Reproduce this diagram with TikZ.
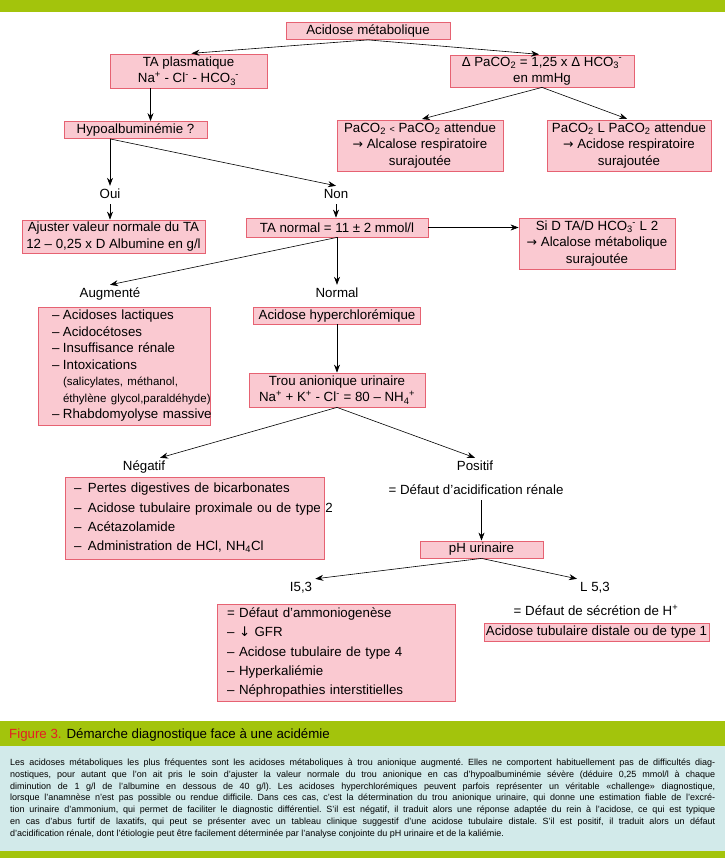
\documentclass[tikz,border=0pt]{standalone}
\usepackage{fontspec}
\setmainfont{Liberation Sans}
\newfontfamily\symfont{DejaVu Sans}
\usetikzlibrary{arrows.meta}
\definecolor{rosebox}{RGB}{250,201,209}
\definecolor{rosedraw}{RGB}{230,98,114}
\definecolor{vert}{RGB}{163,196,12}
\definecolor{bleu}{RGB}{210,234,234}
\definecolor{rouge}{RGB}{228,30,36}
\newcommand{\fl}{{\symfont\fontsize{12.5}{12.5}\selectfont →}}
\newcommand{\hco}{HCO\textsubscript{3}\kern-0.5pt\textsuperscript{-}}
\newcommand{\li}[2]{\makebox[#1][l]{–}\mbox{#2}}
\newcommand{\ligne}[1]{\hbox to 705pt{#1}}
\begin{document}
\begin{tikzpicture}[x=1pt,y=-1pt,
    boite/.style={draw=rosedraw,fill=rosebox,line width=0.8pt,inner sep=0pt,align=center,
      font=\fontsize{13.3}{16.5}\selectfont},
    liste/.style={boite,align=left},
    etiq/.style={inner sep=3pt,text height=9.5pt,text depth=2.5pt,font=\fontsize{13.3}{16}\selectfont},
    fleche/.style={-{Stealth[length=8pt,width=6pt]},line width=0.6pt}]
  \useasboundingbox (0,0) rectangle (725,858);
  %bandes
  \fill[vert] (0,0) rectangle (725,12);
  \fill[vert] (0,721) rectangle (725,746);
  \fill[bleu] (0,746) rectangle (725,851);
  \fill[vert] (0,851) rectangle (725,858);
  %boites
  \node[boite,minimum width=164pt,minimum height=17pt] (acid) at (368,31) {Acidose métabolique};
  \node[boite,minimum width=157pt,minimum height=34pt] (tapl) at (188.5,71)
    {TA plasmatique\\Na\textsuperscript{+} - Cl\textsuperscript{-} - \hco};
  \node[boite,minimum width=184pt,minimum height=32pt] (dpaco) at (542,71)
    {Δ PaCO\textsubscript{2} = 1,25 x Δ \hco\\en mmHg};
  \node[boite,minimum width=143pt,minimum height=17pt] (hypo) at (135.5,130) {Hypoalbuminémie ?};
  \node[boite,minimum width=166pt,minimum height=51pt] (pinf) at (420,145.5)
    {PaCO\textsubscript{2} {\fontsize{9}{9}\selectfont<} PaCO\textsubscript{2} attendue\\\fl{} Alcalose respiratoire\\surajoutée};
  \node[boite,minimum width=164pt,minimum height=51pt] (psup) at (629,145.5)
    {PaCO\textsubscript{2} L PaCO\textsubscript{2} attendue\\\fl{} Acidose respiratoire\\surajoutée};
  \node[etiq] (oui) at (110,195) {Oui};
  \node[etiq] (non) at (336,195) {Non};
  \node[boite,minimum width=183pt,minimum height=33pt] (ajust) at (113.5,236.5)
    {Ajuster valeur normale du TA\\12 – 0,25 x D Albumine en g/l};
  \node[boite,minimum width=182pt,minimum height=19pt] (tanorm) at (337,227.5) {TA normal = 11 ± 2 mmol/l};
  \node[boite,minimum width=156pt,minimum height=51pt] (sid) at (597,243.5)
    {Si D TA/D \hco{} L 2\\\fl{} Alcalose métabolique\\surajoutée};
  \node[etiq] (augl) at (110,294) {Augmenté};
  \node[etiq] (norml) at (337,294) {Normal};
  \node[liste,text width=144pt,inner xsep=14pt,minimum height=118pt] (augm) at (124,366)
    {\li{11pt}{Acidoses lactiques}\\
     \li{11pt}{Acidocétoses}\\
     \li{11pt}{Insuffisance rénale}\\
     \li{11pt}{Intoxications}\\
     \hspace*{11pt}{\fontsize{11.5}{16.5}\selectfont\mbox{(salicylates, méthanol,}}\\
     \hspace*{11pt}{\fontsize{11.5}{16.5}\selectfont\mbox{éthylène glycol,paraldéhyde)}}\\
     \li{11pt}{Rhabdomyolyse massive}};
  \node[boite,minimum width=167pt,minimum height=17pt] (hyper) at (337,315.5) {Acidose hyperchlorémique};
  \node[boite,minimum width=176pt,minimum height=34pt] (trou) at (337,390)
    {Trou anionique urinaire\\Na\textsuperscript{+} + K\textsuperscript{+} - Cl\textsuperscript{-} = 80 – NH\textsubscript{4}\kern-0.5pt\textsuperscript{+}};
  \node[etiq] (negl) at (144,467) {Négatif};
  \node[etiq] (posl) at (475,467) {Positif};
  \node[liste,text width=241pt,inner xsep=9pt,minimum height=82pt,font=\fontsize{13.3}{19.3}\selectfont] (neg) at (194.5,518)
    {\li{14pt}{Pertes digestives de bicarbonates}\\
     \li{14pt}{Acidose tubulaire proximale ou de type 2}\\
     \li{14pt}{Acétazolamide}\\
     \li{14pt}{Administration de HCl, NH\textsubscript{4}Cl}};
  \node[etiq] (defacid) at (476,491) {= Défaut d’acidification rénale};
  \node[boite,minimum width=123pt,minimum height=17pt] (ph) at (481.5,549.5) {pH urinaire};
  \node[etiq] (infl) at (301,588) {I5,3};
  \node[etiq] (supl) at (595,588) {L 5,3};
  \node[liste,text width=218pt,inner xsep=10pt,minimum height=97pt,font=\fontsize{13.3}{19.3}\selectfont] (ammon) at (336,652.5)
    {= Défaut d’ammoniogenèse\\
     \li{12pt}{{\symfont ↓} GFR}\\
     \li{12pt}{Acidose tubulaire de type 4}\\
     \li{12pt}{Hyperkaliémie}\\
     \li{12pt}{Néphropathies interstitielles}};
  \node[etiq] (defsecr) at (596,612) {= Défaut de sécrétion de H\textsuperscript{+}};
  \node[boite,minimum width=225pt,minimum height=18pt] (distal) at (596.5,632) {Acidose tubulaire distale ou de type 1};
  %fleches
  \draw[fleche,shorten >=3pt] (acid.south) -- (tapl.north);
  \draw[fleche,shorten >=3pt] (acid.south) -- (dpaco.north);
  \draw[fleche] ([xshift=-38pt]tapl.south) -- ([xshift=-38pt]tapl.south |- hypo.north);
  \draw[fleche,shorten >=2pt] (dpaco.south) -- (pinf.north);
  \draw[fleche,shorten >=2pt] (dpaco.south) -- (psup.north);
  \draw[fleche] (hypo.south -| oui) -- (oui.north);
  \draw[fleche] (hypo.south -| oui) -- (non.north);
  \draw[fleche] (oui.south) -- (ajust.north -| oui);
  \draw[fleche] (non.south) -- (tanorm.north -| non);
  \draw[fleche] (tanorm.east) -- (sid.west |- tanorm.east);
  \draw[fleche] (tanorm.south) -- (augl.north);
  \draw[fleche] (tanorm.south) -- (norml.north);
  \draw[fleche] (hyper.south) -- (trou.north);
  \draw[fleche] (trou.south) -- ([xshift=16pt]negl.north);
  \draw[fleche] (trou.south) -- (posl.north);
  \draw[fleche] (defacid.south -| ph.north) -- (ph.north);
  \draw[fleche] (ph.south) -- (infl.north east);
  \draw[fleche] (ph.south) -- (supl.north west);
  %legende
  \node[anchor=base west,inner sep=0pt,font=\fontsize{13.3}{16}\selectfont] (titre) at (9,738)
    {\textcolor{rouge}{Figure 3.} Démarche diagnostique face à une acidémie};
  \node[anchor=north west,inner sep=0pt,font=\fontsize{9}{11.7}\selectfont] (texte) at (10,759)
    {\frenchspacing\vbox{%
     \ligne{Les acidoses métaboliques les plus fréquentes sont les acidoses métaboliques à trou anionique augmenté. Elles ne comportent habituellement pas de difficultés diag-}
     \ligne{nostiques, pour autant que l’on ait pris le soin d’ajuster la valeur normale du trou anionique en cas d’hypoalbuminémie sévère (déduire 0,25 mmol/l à chaque}
     \ligne{diminution de 1 g/l de l’albumine en dessous de 40 g/l). Les acidoses hyperchlorémiques peuvent parfois représenter un véritable «challenge» diagnostique,}
     \ligne{lorsque l’anamnèse n’est pas possible ou rendue difficile. Dans ces cas, c’est la détermination du trou anionique urinaire, qui donne une estimation fiable de l’excré-}
     \ligne{tion urinaire d’ammonium, qui permet de faciliter le diagnostic différentiel. S’il est négatif, il traduit alors une réponse adaptée du rein à l’acidose, ce qui est typique}
     \ligne{en cas d’abus furtif de laxatifs, qui peut se présenter avec un tableau clinique suggestif d’une acidose tubulaire distale. S’il est positif, il traduit alors un défaut}
     \hbox{d’acidification rénale, dont l’étiologie peut être facilement déterminée par l’analyse conjointe du pH urinaire et de la kaliémie.}}};
\end{tikzpicture}
\end{document}
